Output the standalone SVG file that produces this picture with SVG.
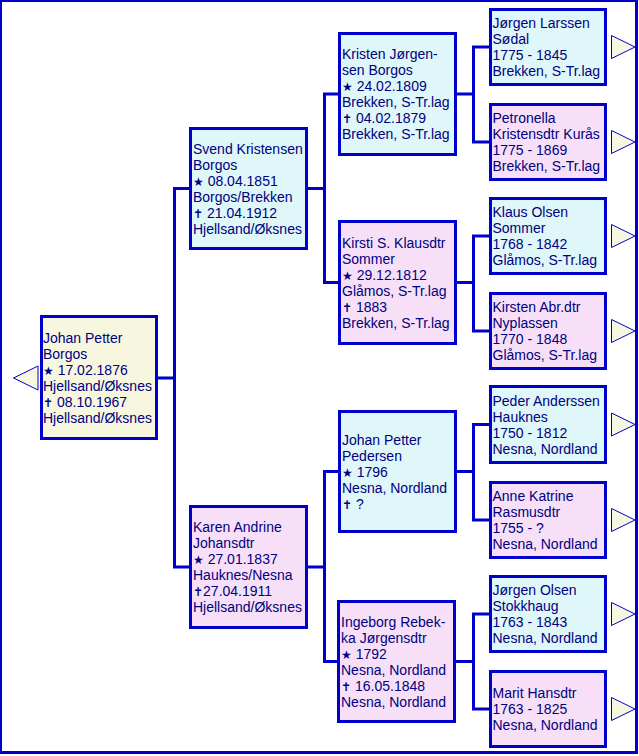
<svg xmlns="http://www.w3.org/2000/svg" width="639" height="756" viewBox="0 0 639 756">
<style>
.box{stroke:#0000cc;stroke-width:3}
.m{fill:#dff7f8}
.f{fill:#f7e0f7}
.r{fill:#f7f7e0}
.arr{fill:#f7f7e0;stroke:#0000cc;stroke-width:1}
.con{fill:none;stroke:#0000cc;stroke-width:3}
text{font-family:"Liberation Sans","DejaVu Sans",Arial,sans-serif;font-size:14px;fill:#000080}
.sym{font-family:"DejaVu Sans",sans-serif;font-size:12px}
</style>
<rect x="0.5" y="0.5" width="636" height="752" fill="#ffffff" stroke="#0000cc" stroke-width="3"/>
<g id="connectors">
<path class="con" d="M158,378H174.5 M189,188.5H174.5V567H189"/>
<path class="con" d="M308,188.5H324.5 M338,94H324.5V282.5H338"/>
<path class="con" d="M308,567H324.5 M338,471.5H324.5V661.5H338"/>
<path class="con" d="M457,94H473.5 M489,47H473.5V142H489"/>
<path class="con" d="M457,282.5H473.5 M489,236H473.5V331H489"/>
<path class="con" d="M457,471.5H473.5 M489,424.5H473.5V520H489"/>
<path class="con" d="M456,661.5H473.5 M489,614H473.5V709H489"/>
</g>
<g id="root">
<polygon class="arr" points="13.5,378 38,366 38,390"/>
<rect class="box r" x="41.5" y="316.5" width="115" height="122"/>
<text x="43" y="343">Johan Petter</text>
<text x="43" y="359">Borgos</text>
<text x="43" y="375"><tspan class="sym">★</tspan> 17.02.1876</text>
<text x="43" y="391">Hjellsand/Øksnes</text>
<text x="43" y="407"><tspan class="sym">✝</tspan> 08.10.1967</text>
<text x="43" y="423">Hjellsand/Øksnes</text>
</g>
<g id="svend">
<rect class="box m" x="190.5" y="128.5" width="116" height="120"/>
<text x="193" y="153.5">Svend Kristensen</text>
<text x="193" y="169.5">Borgos</text>
<text x="193" y="185.5"><tspan class="sym">★</tspan> 08.04.1851</text>
<text x="193" y="201.5">Borgos/Brekken</text>
<text x="193" y="217.5"><tspan class="sym">✝</tspan> 21.04.1912</text>
<text x="193" y="233.5">Hjellsand/Øksnes</text>
</g>
<g id="karen">
<rect class="box f" x="190.5" y="506.5" width="116" height="121"/>
<text x="193" y="532">Karen Andrine</text>
<text x="193" y="548">Johansdtr</text>
<text x="193" y="564"><tspan class="sym">★</tspan> 27.01.1837</text>
<text x="193" y="580">Hauknes/Nesna</text>
<text x="193" y="596"><tspan class="sym">✝</tspan>27.04.1911</text>
<text x="193" y="612">Hjellsand/Øksnes</text>
</g>
<g id="kristen">
<rect class="box m" x="339.5" y="33.5" width="116" height="121"/>
<text x="342" y="59">Kristen Jørgen-</text>
<text x="342" y="75">sen Borgos</text>
<text x="342" y="91"><tspan class="sym">★</tspan> 24.02.1809</text>
<text x="342" y="107">Brekken, S-Tr.lag</text>
<text x="342" y="123"><tspan class="sym">✝</tspan> 04.02.1879</text>
<text x="342" y="139">Brekken, S-Tr.lag</text>
</g>
<g id="kirsti">
<rect class="box f" x="339.5" y="221.5" width="116" height="122"/>
<text x="342" y="247.5">Kirsti S. Klausdtr</text>
<text x="342" y="263.5">Sommer</text>
<text x="342" y="279.5"><tspan class="sym">★</tspan> 29.12.1812</text>
<text x="342" y="295.5">Glåmos, S-Tr.lag</text>
<text x="342" y="311.5"><tspan class="sym">✝</tspan> 1883</text>
<text x="342" y="327.5">Brekken, S-Tr.lag</text>
</g>
<g id="johanpetterpedersen">
<rect class="box m" x="339.5" y="411.5" width="116" height="120"/>
<text x="342" y="444.5">Johan Petter</text>
<text x="342" y="460.5">Pedersen</text>
<text x="342" y="476.5"><tspan class="sym">★</tspan> 1796</text>
<text x="342" y="492.5">Nesna, Nordland</text>
<text x="342" y="508.5"><tspan class="sym">✝</tspan> ?</text>
</g>
<g id="ingeborg">
<rect class="box f" x="338.5" y="601.5" width="116" height="120"/>
<text x="341" y="626.5">Ingeborg Rebek-</text>
<text x="341" y="642.5">ka Jørgensdtr</text>
<text x="341" y="658.5"><tspan class="sym">★</tspan> 1792</text>
<text x="341" y="674.5">Nesna, Nordland</text>
<text x="341" y="690.5"><tspan class="sym">✝</tspan> 16.05.1848</text>
<text x="341" y="706.5">Nesna, Nordland</text>
</g>
<g id="jorgenlarssen">
<rect class="box m" x="490.5" y="9.5" width="115" height="75"/>
<polygon class="arr" points="611.5,35.5 611.5,58.5 635,47"/>
<text x="492.5" y="28">Jørgen Larssen</text>
<text x="492.5" y="44">Sødal</text>
<text x="492.5" y="60">1775 - 1845</text>
<text x="492.5" y="76">Brekken, S-Tr.lag</text>
</g>
<g id="petronella">
<rect class="box f" x="490.5" y="104.5" width="115" height="75"/>
<polygon class="arr" points="611.5,130.5 611.5,153.5 635,142"/>
<text x="492.5" y="123">Petronella</text>
<text x="492.5" y="139">Kristensdtr Kurås</text>
<text x="492.5" y="155">1775 - 1869</text>
<text x="492.5" y="171">Brekken, S-Tr.lag</text>
</g>
<g id="klaus">
<rect class="box m" x="490.5" y="198.5" width="115" height="75"/>
<polygon class="arr" points="611.5,224.5 611.5,247.5 635,236"/>
<text x="492.5" y="217">Klaus Olsen</text>
<text x="492.5" y="233">Sommer</text>
<text x="492.5" y="249">1768 - 1842</text>
<text x="492.5" y="265">Glåmos, S-Tr.lag</text>
</g>
<g id="kirsten">
<rect class="box f" x="490.5" y="293.5" width="115" height="75"/>
<polygon class="arr" points="611.5,319.5 611.5,342.5 635,331"/>
<text x="492.5" y="312">Kirsten Abr.dtr</text>
<text x="492.5" y="328">Nyplassen</text>
<text x="492.5" y="344">1770 - 1848</text>
<text x="492.5" y="360">Glåmos, S-Tr.lag</text>
</g>
<g id="peder">
<rect class="box m" x="490.5" y="386.5" width="115" height="76"/>
<polygon class="arr" points="611.5,413 611.5,436 635,424.5"/>
<text x="492.5" y="405.5">Peder Anderssen</text>
<text x="492.5" y="421.5">Hauknes</text>
<text x="492.5" y="437.5">1750 - 1812</text>
<text x="492.5" y="453.5">Nesna, Nordland</text>
</g>
<g id="anne">
<rect class="box f" x="490.5" y="482.5" width="115" height="75"/>
<polygon class="arr" points="611.5,508.5 611.5,531.5 635,520"/>
<text x="492.5" y="501">Anne Katrine</text>
<text x="492.5" y="517">Rasmusdtr</text>
<text x="492.5" y="533">1755 - ?</text>
<text x="492.5" y="549">Nesna, Nordland</text>
</g>
<g id="jorgenolsen">
<rect class="box m" x="490.5" y="576.5" width="115" height="75"/>
<polygon class="arr" points="611.5,602.5 611.5,625.5 635,614"/>
<text x="492.5" y="595">Jørgen Olsen</text>
<text x="492.5" y="611">Stokkhaug</text>
<text x="492.5" y="627">1763 - 1843</text>
<text x="492.5" y="643">Nesna, Nordland</text>
</g>
<g id="marit">
<rect class="box f" x="490.5" y="671.5" width="115" height="75"/>
<polygon class="arr" points="611.5,697.5 611.5,720.5 635,709"/>
<text x="492.5" y="698">Marit Hansdtr</text>
<text x="492.5" y="714">1763 - 1825</text>
<text x="492.5" y="730">Nesna, Nordland</text>
</g>
</svg>
